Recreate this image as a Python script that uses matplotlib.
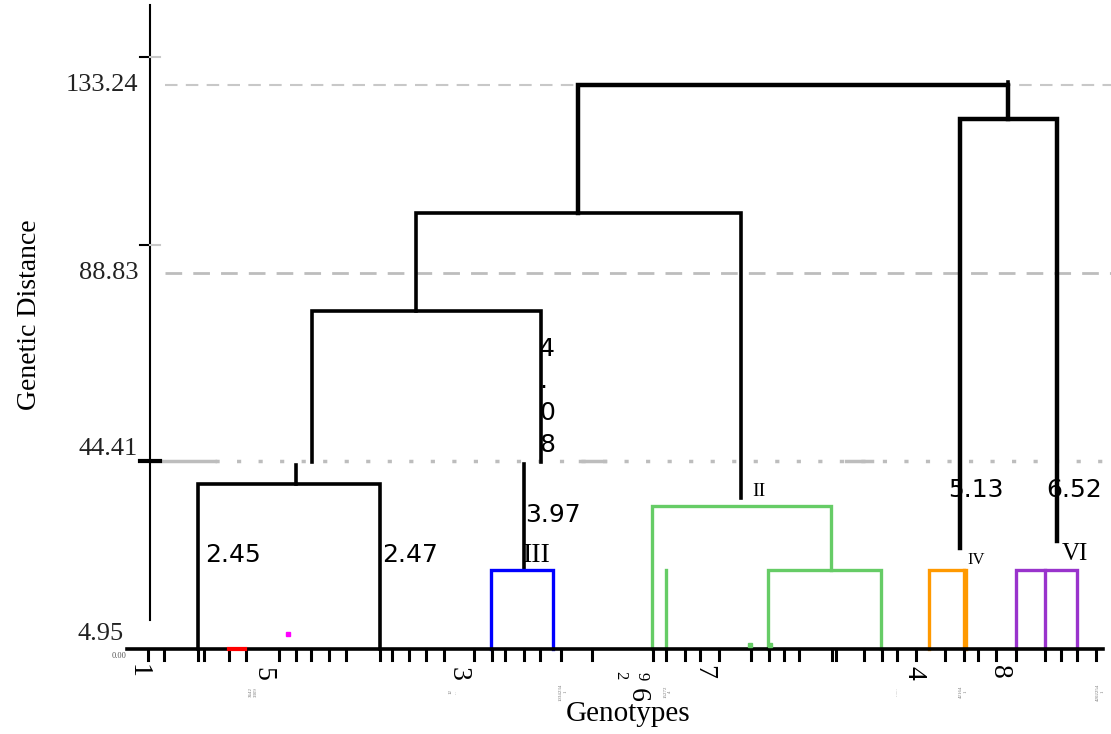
import matplotlib
matplotlib.use('Agg')
from matplotlib import pyplot as plt

# y scale: pixel row of value 0 and pixels per unit
Y0 = 649
PPU = 4.23

def yv(p):
    return (Y0 - p) / PPU

# axis ticks / labels
ytick_vals = [133.24, 88.83, 44.41, 4.95]
ytick_text = ['133.24', '88.83', '44.41', '4.95']

# dendrogram links: (x_left, x_right, height, bottom_left, bottom_right)
black_links = [
    (578, 1008, 133.24, 103.1, 125.3),
    (960, 1057, 125.3, 23.9, 25.5),
    (416, 741, 103.1, 79.9, 35.7),
    (312, 541, 79.9, 44.2, 44.2),
    (198, 380, 39.0, 0.0, 0.0),
]
black_stems = [(296, 43.5, 39.0), (524, 43.8, 18.7), (1008, 134.0, 125.3)]

col_links = [
    (491, 553, 18.7, 0.0, 0.0, '#0000ff'),
    (652, 831, 33.8, 0.0, 18.7, '#66cc66'),
    (768, 881, 18.7, 0.0, 0.0, '#66cc66'),
    (929, 966, 18.7, 0.0, 0.0, '#ff9900'),
    (1016, 1077, 18.7, 0.0, 0.0, '#9933cc'),
]
col_stems = [(666, 18.7, 0.0, '#66cc66'), (964, 18.7, 0.0, '#ff9900'),
             (1045, 18.7, 0.0, '#9933cc')]

# distances written beside branches
dist_labels = ['2.45', '2.47', '3.97', '5.13', '6.52']
dist_x = [205, 382, 525, 948, 1046]
dist_y = [555, 555, 515, 490, 490]
vert_digits = ['4', '.', '0', '8']

groups = ['III', 'II', 'IV', 'VI']

# genotype ticks along baseline
gx = [148, 164, 198, 204, 229, 246, 279, 296, 311, 329, 346, 380, 392, 409,
      426, 444, 474, 492, 505, 524, 540, 561, 592, 653, 666, 685, 700, 719,
      751, 769, 784, 799, 832, 836, 864, 882, 897, 916, 945, 964, 978, 996,
      1016, 1045, 1061, 1077, 1096]
geno_lab = ['1', '5', '3', '6', '7', '4', '8']
geno_x = [138, 263, 458, 637, 704, 914, 999]
geno_y = [671, 674, 674, 695, 672, 673, 672]
small_ids = ['3642\n3309', '12\n...', '1034234\n1', '15272\n4', '.......', '42164\n1', '4202254\n1']
small_x = [253, 453, 563, 668, 897, 963, 1100]

fig = plt.figure(figsize=(11.11, 7.34), dpi=100)
ax = fig.add_axes([0, 0, 1, 1])
ax.set_xlim(0, 1111)
ax.set_ylim(yv(734), yv(0))
ax.axis('off')

serif = 'Liberation Serif'

# reference lines
ax.plot([165, 1111], [133.24, 133.24], color='#c8c8c8', lw=1.5, dashes=(6, 4))
ax.plot([165, 1111], [88.83, 88.83], color='#bdbdbd', lw=2, dashes=(6, 4))
ax.plot([150, 215], [44.41, 44.41], color='#bdbdbd', lw=2.5)
ax.plot([215, 1111], [44.41, 44.41], color='#bdbdbd', lw=2.5, dashes=(1.2, 5))
for a, b in [(580, 605), (846, 872)]:
    ax.plot([a, b], [44.41, 44.41], color='#bdbdbd', lw=2.5)

# y axis
ax.plot([150, 150], [yv(5), yv(620)], color='black', lw=1.5)
for p in [57, 245]:
    ax.plot([140, 150], [yv(p), yv(p)], color='black', lw=1.5)
    ax.plot([150, 160], [yv(p), yv(p)], color='#c8c8c8', lw=1.5)
ax.plot([140, 160], [44.41, 44.41], color='black', lw=3)
lab_y = {133.24: 133.24, 88.83: 88.83, 44.41: yv(449), 4.95: yv(634)}
for v, t in zip(ytick_vals, ytick_text):
    ax.text(138 if v != 4.95 else 124, lab_y[v], t, ha='right', va='center',
            fontsize=19, family=serif, color='#222222')
ax.text(127, yv(656), '0.00', ha='right', va='center', fontsize=6,
        family=serif, color='#555555')

# dendrogram
for xl, xr, h, bl, br in black_links:
    lw = 3.2 if h > 120 else 2.6
    ax.plot([xl, xl, xr, xr], [bl, h, h, br], color='black', lw=lw,
            solid_joinstyle='miter')
for x, top, bot in black_stems:
    ax.plot([x, x], [top, bot], color='black', lw=2.6)
for xl, xr, h, bl, br, c in col_links:
    ax.plot([xl, xl, xr, xr], [bl, h, h, br], color=c, lw=2.4,
            solid_joinstyle='miter')
for x, top, bot, c in col_stems:
    ax.plot([x, x], [top, bot], color=c, lw=2.4)

# small marks
ax.plot([229, 245], [0, 0], color='red', lw=3, zorder=5)
ax.plot([288], [yv(634)], 's', color='#ff00ff', ms=3)
ax.plot([750, 770], [yv(645), yv(645)], 's', color='#66cc66', ms=2.5, zorder=5)

# baseline + ticks
ax.plot([127, 1103], [0, 0], color='black', lw=2.6, zorder=4)
for x in gx:
    ax.plot([x, x], [0, yv(660)], color='black', lw=2.2)

# text on branches
for t, x, y in zip(dist_labels, dist_x, dist_y):
    ax.text(x, yv(y), t, ha='left', va='center', fontsize=18)
for i, d in enumerate(vert_digits):
    ax.text(539, yv(349 + i * 32), d, ha='left', va='center', fontsize=18)
ax.text(523, yv(555), groups[0], ha='left', va='center', fontsize=20, family=serif)
ax.text(752, yv(492), groups[1], ha='left', va='center', fontsize=14,
        family=serif, stretch='condensed')
ax.text(967, yv(560), groups[2], ha='left', va='center', fontsize=12, family=serif)
ax.text(1062, yv(554), groups[3], ha='left', va='center', fontsize=18, family=serif)

# genotype labels
for t, x, y in zip(geno_lab, geno_x, geno_y):
    ax.text(x, yv(y), t, ha='center', va='center', rotation=-90,
            fontsize=20, family=serif)
ax.text(620, yv(675), '2', ha='center', va='center', rotation=-90, fontsize=12, family=serif)
ax.text(642, yv(676), '9', ha='center', va='center', rotation=-90, fontsize=12, family=serif)
for t, x in zip(small_ids, small_x):
    ax.text(x, yv(692), t, ha='center', va='center', rotation=90,
            fontsize=3.5, family=serif, color='#777777')

ax.text(628, yv(714), 'Genotypes', ha='center', va='center', fontsize=21, family=serif)
ax.text(30, yv(315), 'Genetic Distance', ha='center', va='center', rotation=90,
        fontsize=20, family=serif)

fig.savefig('out.png', dpi=100)
